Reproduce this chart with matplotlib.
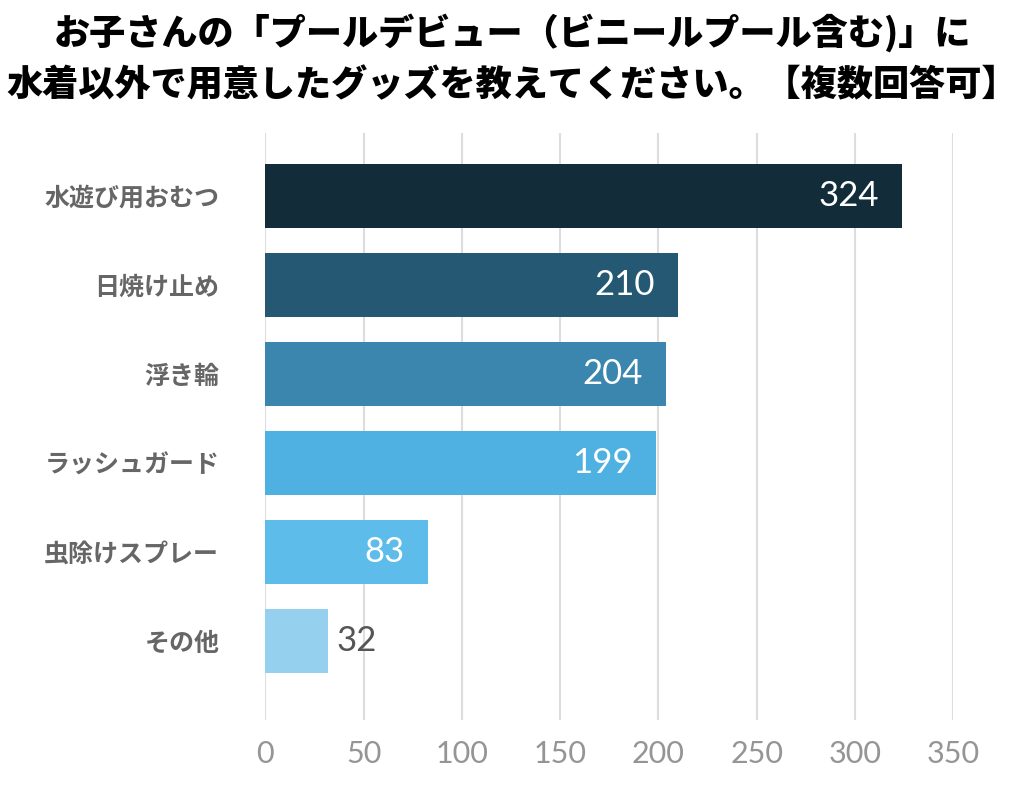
import matplotlib
matplotlib.use("Agg")
import matplotlib.pyplot as plt

title_lines = ["お子さんの「プールデビュー（ビニールプール含む)」に",
               "水着以外で用意したグッズを教えてください。【複数回答可】"]
categories = ["水遊び用おむつ", "日焼け止め", "浮き輪", "ラッシュガード", "虫除けスプレー", "その他"]
values = [324, 210, 204, 199, 83, 32]
colors = ["#122c39", "#245873", "#3b86af", "#4fb1e2", "#5dbce9", "#95d1ef"]
xticks = [0, 50, 100, 150, 200, 250, 300, 350]

plt.rcParams['font.family'] = ['Noto Sans CJK JP', 'DejaVu Sans']

fig = plt.figure(figsize=(10.24, 7.88), dpi=100)
ax = fig.add_axes([0.259, 0.086, 0.672, 0.745])

ypos = list(range(len(categories)))
ax.barh(ypos, values, height=0.72, color=colors, zorder=3)
ax.set_ylim(5.89, -0.71)
ax.set_xlim(0, 350)
ax.set_xticks(xticks)
ax.set_xticklabels([str(t) for t in xticks], fontsize=22, color="#959595",
                   family=['Lato', 'DejaVu Sans'])
ax.set_yticks(ypos)
ax.set_yticklabels(categories, fontsize=18, fontweight='bold', color="#666666")
ax.tick_params(axis='both', length=0)
ax.tick_params(axis='x', pad=14)
ax.tick_params(axis='y', pad=33)
ax.grid(axis='x', color="#dddddd", linewidth=1.5, zorder=0)
for s in ax.spines.values():
    s.set_visible(False)

for y, v in zip(ypos, values):
    if v >= 60:
        ax.annotate(str(v), xy=(v, y), xytext=(-17, 0), textcoords='offset points',
                    ha='right', va='center', fontsize=25, color='white',
                    family=['Lato', 'DejaVu Sans'])
    else:
        ax.annotate(str(v), xy=(v, y), xytext=(6, 0), textcoords='offset points',
                    ha='left', va='center', fontsize=25, color='#555555',
                    family=['Lato', 'DejaVu Sans'])

fig.text(0.5, 1 - 33/788, title_lines[0], ha='center', va='center',
         fontsize=26, fontweight='black', color='black')
fig.text(0.5, 1 - 85/788, title_lines[1], ha='center', va='center',
         fontsize=26, fontweight='black', color='black')

fig.savefig("out.png", dpi=100)
